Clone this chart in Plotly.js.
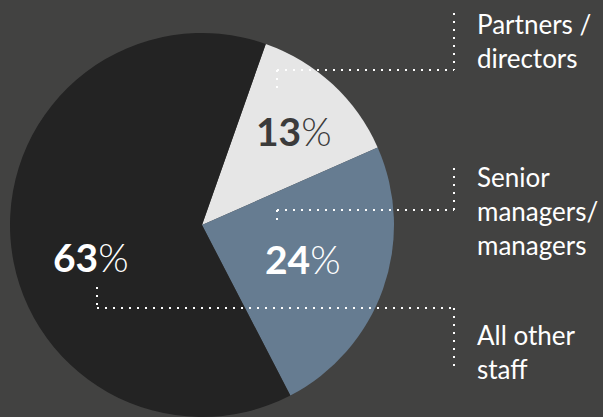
<!DOCTYPE html>
<html>
<head>
<meta charset="utf-8">
<script src="https://cdn.plot.ly/plotly-3.0.1.min.js"></script>
<style>
html,body{margin:0;padding:0;background:#424241;}
#chart{width:603px;height:417px;}
</style>
</head>
<body>
<div id="chart"></div>
<script>
var categories = ["Partners /<br>directors", "Senior<br>managers/<br>managers", "All other<br>staff"];
var values = [13, 24, 63];
var sliceColors = ["#e6e6e6", "#667c91", "#232323"];
var pctColors = ["#3b3b3b", "#ffffff", "#ffffff"];

var W = 603, H = 417;
function px(x){return x / W;}
function py(y){return 1 - y / H;}

// label positions (pixels)
var pctPos = [[294, 131], [303, 259], [91, 257]];
var catPos = [[475, 41], [475, 211], [475, 352]];

var annotations = [];
values.forEach(function(v, i){
  annotations.push({
    xref: "paper", yref: "paper",
    x: px(pctPos[i][0]), y: py(pctPos[i][1]),
    xanchor: "center", yanchor: "middle",
    text: "<b>" + v + "</b><span style=\"font-weight:300\">%</span>",
    showarrow: false,
    font: {family: "Lato", size: 39, color: pctColors[i]}
  });
  annotations.push({
    xref: "paper", yref: "paper",
    x: px(catPos[i][0]), y: py(catPos[i][1]),
    xanchor: "left", yanchor: "middle", align: "left",
    text: categories[i],
    showarrow: false,
    font: {family: "Lato", size: 26, color: "#ffffff"}
  });
});

var dotLine = {color: "#ffffff", width: 2, dash: "2px,6px"};
function seg(x0, y0, x1, y1){
  return {type: "line", xref: "paper", yref: "paper",
          x0: px(x0), y0: py(y0), x1: px(x1), y1: py(y1), line: dotLine};
}
var shapes = [
  seg(454, 13, 454, 70), seg(277, 70, 454, 70), seg(277, 70, 277, 91),
  seg(454, 168, 454, 210), seg(277, 210, 454, 210), seg(277, 210, 277, 225),
  seg(454, 308, 454, 366), seg(97, 308, 454, 308), seg(97, 287, 97, 308)
];

var trace = {
  type: "pie",
  values: values,
  labels: categories,
  sort: false,
  direction: "clockwise",
  rotation: 19.4,
  marker: {colors: sliceColors, line: {width: 0}},
  textinfo: "none",
  hoverinfo: "none",
  showlegend: false,
  domain: {x: [10 / W, 394 / W], y: [0, 384 / H]}
};

var layout = {
  width: W, height: H,
  margin: {l: 0, r: 0, t: 0, b: 0},
  paper_bgcolor: "#424241",
  plot_bgcolor: "#424241",
  showlegend: false,
  annotations: annotations,
  shapes: shapes
};

Plotly.newPlot("chart", [trace], layout, {displayModeBar: false, staticPlot: true});
</script>
</body>
</html>
